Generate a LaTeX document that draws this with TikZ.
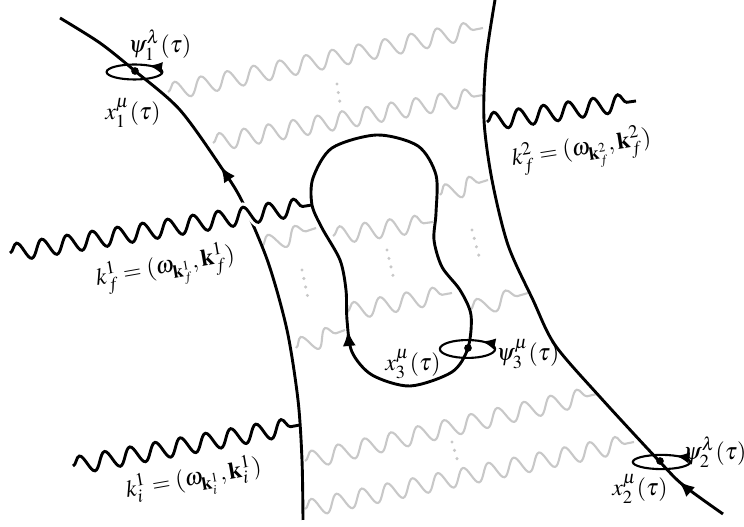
\documentclass[tikz,border=0pt]{standalone}
\usepackage{mathptmx}
\usetikzlibrary{arrows.meta, calc, decorations.pathmorphing, decorations.markings}
\definecolor{wave-gray}{RGB}{200,200,200}

% wavy photon line with a whole number of periods
\newcommand{\wavy}[3][]{%
  \draw[#1] let \p1=($(#3)-(#2)$), \n1={veclen(\x1,\y1)} in
    decorate[decoration={snake, amplitude=3.3pt,
      segment length={\n1/max(1,round(\n1/9.9pt))}}] {(#2) -- (#3)};}

\begin{document}
\begin{tikzpicture}[
  x=0.38pt, y=-0.38pt,
  every node/.style={font=\fontsize{9}{11}\selectfont},
  wline/.style={line width=1.1pt},
  photon/.style={black, line width=1.1pt},
  softphoton/.style={wave-gray, line width=0.8pt},
  halo/.style={white, line width=3.4pt},
  vdots/.style={wave-gray, line width=1.3pt, line cap=round, dash pattern=on 0pt off 3.3pt},
  spin/.style={line width=0.8pt},
  vertex/.style={circle, fill, inner sep=0pt, minimum size=2.8pt},
  arrowat/.style={postaction={decorate, decoration={markings,
      mark=at position #1 with {\arrow{Latex[length=6pt, width=5pt]}}}}},
  spinarrow/.style={postaction={decorate, decoration={markings,
      mark=at position #1 with {\arrow{Latex[length=5pt, width=4.4pt]}}}}},
]
  \useasboundingbox (0,0) rectangle (744,527);

  % Vertices
  \node[vertex] (x1) at (135,71) {};
  \node[vertex] (x2) at (660,461) {};
  \node[vertex] (x3) at (468,348) {};

  % Photon end points
  \coordinate (g1a) at (168,92);   \coordinate (g1b) at (483,28);
  \coordinate (g2a) at (213,143);  \coordinate (g2b) at (483,95);
  \coordinate (g3a) at (262,246);  \coordinate (g3b) at (316,228);
  \coordinate (g4a) at (333,236);  \coordinate (g4b) at (433,222);
  \coordinate (g5a) at (440,195);  \coordinate (g5b) at (488,180);
  \coordinate (g6a) at (347,312);  \coordinate (g6b) at (452,293);
  \coordinate (g7a) at (470,310);  \coordinate (g7b) at (528,293);
  \coordinate (g8a) at (296,348);  \coordinate (g8b) at (345,330);
  \coordinate (g9a) at (305,461);  \coordinate (g9b) at (597,394);
  \coordinate (g10a) at (305,509); \coordinate (g10b) at (634,442);
  \coordinate (kf1a) at (10,253);  \coordinate (kf1b) at (312,205);
  \coordinate (kf2a) at (487,122); \coordinate (kf2b) at (636,101);
  \coordinate (ki1a) at (73,466);  \coordinate (ki1b) at (300,425);

  % Exchanged photons
  \foreach \g in {g1,g2,g3,g4,g5,g6,g7,g8,g9,g10}
    \wavy[softphoton]{\g a}{\g b};

  % Dots
  \coordinate (d1a) at (337,84);  \coordinate (d1b) at (340,103);
  \coordinate (d2a) at (302,270); \coordinate (d2b) at (308,298);
  \coordinate (d3a) at (387,250); \coordinate (d3b) at (394,280);
  \coordinate (d4a) at (472,230); \coordinate (d4b) at (480,260);
  \coordinate (d5a) at (452,442); \coordinate (d5b) at (458,462);
  \foreach \d in {d1,d2,d3,d4,d5}
    \draw[vdots] (\d a) -- (\d b);

  % Worldlines
  \draw[wline, arrowat=0.625] plot[smooth] coordinates {(303,520) (302,460) (298,400) (287,330)
    (268,262) (243,203) (223,170) (180,110) (135,71) (100,43) (60,18)};
  \draw[wline, arrowat=0.092] plot[smooth] coordinates {(723,514) (683,485) (660,462) (600,397)
    (555,345) (533,300) (508,245) (492,180) (484,120) (486,60) (495,0)};

  % External photons
  \wavy[halo]{kf1a}{kf1b};
  \wavy[photon]{kf1a}{kf1b};
  \wavy[photon]{kf2a}{kf2b};
  \wavy[photon]{ki1a}{ki1b};

  % Loop
  \draw[wline, arrowat=0.205] plot[smooth cycle] coordinates {(468,348) (452,372) (410,386)
    (372,375) (352,352) (347,320) (346,290) (340,260) (322,228) (312,205) (313,178) (332,148)
    (377,135) (418,146) (436,175) (436,213) (434,240) (442,267) (460,290) (471,315)};

  % Spin loops
  \draw[spin, spinarrow=0.13] (134.5,72) ellipse [x radius=10.6pt, y radius=2.85pt];
  \draw[spin, spinarrow=0.13] (661.5,462) ellipse [x radius=10.9pt, y radius=2.7pt];
  \draw[spin, spinarrow=0.13] (467.5,349) ellipse [x radius=10.5pt, y radius=3.4pt];
  \node[vertex] at (x1) {};
  \node[vertex] at (x2) {};
  \node[vertex] at (x3) {};

  % Labels
  \node (psi1) at (160,45) {$\psi_1^\lambda(\tau)$};
  \node (pos1) at (133,113) {$x_1^\mu(\tau)$};
  \node (psi2) at (715,452) {$\psi_2^\lambda(\tau)$};
  \node (pos2) at (640,489) {$x_2^\mu(\tau)$};
  \node (pos3) at (413,364) {$x_3^\mu(\tau)$};
  \node (psi3) at (528,354) {$\psi_3^\mu(\tau)$};
  \node[rotate=10] (kf1) at (166,270) {$k_f^1=(\omega_{\mathbf{k}_f^1},\mathbf{k}_f^1)$};
  \node[rotate=9] (kf2) at (582,152) {$k_f^2=(\omega_{\mathbf{k}_f^2},\mathbf{k}_f^2)$};
  \node[rotate=10] (ki1) at (194,481) {$k_i^1=(\omega_{\mathbf{k}_i^1},\mathbf{k}_i^1)$};
\end{tikzpicture}
\end{document}
